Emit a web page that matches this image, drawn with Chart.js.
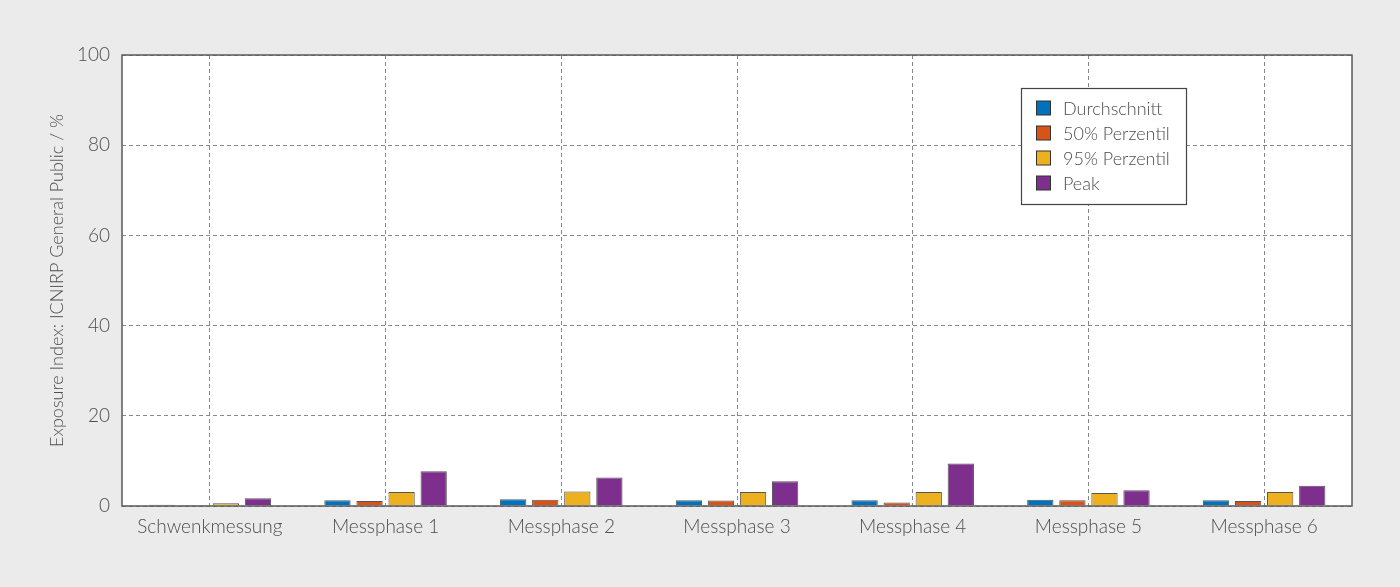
<!DOCTYPE html>
<html>
<head>
<meta charset="utf-8">
<script src="https://cdn.jsdelivr.net/npm/chart.js@4/dist/chart.umd.min.js"></script>
<style>
  html, body { margin: 0; padding: 0; background: #ebebeb; }
  #wrap { width: 1400px; height: 587px; position: relative; }
</style>
</head>
<body>
<div id="wrap"><canvas id="c" width="1400" height="587"></canvas></div>
<script>
const categories = ['Schwenkmessung', 'Messphase 1', 'Messphase 2', 'Messphase 3', 'Messphase 4', 'Messphase 5', 'Messphase 6'];
const seriesNames = ['Durchschnitt', '50% Perzentil', '95% Perzentil', 'Peak'];
const durchschnitt = [0.3, 1.3, 1.5, 1.3, 1.3, 1.4, 1.3];
const perzentil50 = [0.2, 1.1, 1.4, 1.2, 0.8, 1.3, 1.1];
const perzentil95 = [0.6, 3.1, 3.2, 3.1, 3.1, 2.9, 3.1];
const peak = [1.7, 7.7, 6.3, 5.5, 9.4, 3.5, 4.5];
const yTicks = [0, 20, 40, 60, 80, 100];
const colors = ['#0072BD', '#D95319', '#EDB120', '#7E2F8E'];

const FONT = 'Lato';
const TEXT = '#4d4d4d';

const plotFrame = {
  id: 'plotFrame',
  beforeDraw(chart) {
    const {ctx, chartArea: a} = chart;
    ctx.save();
    ctx.fillStyle = '#ffffff';
    ctx.fillRect(a.left, a.top, a.right - a.left, a.bottom - a.top);
    ctx.restore();
  },
  afterDraw(chart) {
    const {ctx, chartArea: a} = chart;
    ctx.save();
    ctx.strokeStyle = '#5a5a5a';
    ctx.lineWidth = 1.5;
    ctx.strokeRect(a.left, a.top, a.right - a.left, a.bottom - a.top);
    // legend box
    const bx = 1021.5, by = 88.5, bw = 165, bh = 116;
    ctx.fillStyle = '#ffffff';
    ctx.fillRect(bx, by, bw, bh);
    ctx.strokeStyle = '#444444';
    ctx.lineWidth = 1.2;
    ctx.strokeRect(bx, by, bw, bh);
    ctx.font = '300 18px ' + FONT;
    ctx.textBaseline = 'middle';
    chart.data.datasets.forEach((ds, i) => {
      const y = 108 + i * 25;
      ctx.fillStyle = ds.backgroundColor;
      ctx.fillRect(1036.5, y - 7, 14, 14);
      ctx.strokeStyle = '#333333';
      ctx.lineWidth = 1;
      ctx.strokeRect(1036.5, y - 7, 14, 14);
      ctx.fillStyle = TEXT;
      ctx.fillText(ds.label, 1063, y + 1);
    });
    ctx.restore();
  }
};

new Chart(document.getElementById('c'), {
  type: 'bar',
  data: {
    labels: categories,
    datasets: [durchschnitt, perzentil50, perzentil95, peak].map((d, i) => ({
      label: seriesNames[i],
      data: d,
      backgroundColor: colors[i],
      borderColor: '#555555',
      borderWidth: 1,
      categoryPercentage: 0.73,
      barPercentage: 0.82
    }))
  },
  options: {
    responsive: false,
    animation: false,
    layout: { padding: { left: 0, right: 48, top: 55, bottom: 0 } },
    plugins: { legend: { display: false }, tooltip: { enabled: false } },
    scales: {
      x: {
        grid: { offset: false, color: '#888888', lineWidth: 1, drawTicks: false },
        border: { display: false, dash: [4, 3] },
        ticks: { color: TEXT, font: { family: FONT, size: 19, weight: '300' }, padding: 9, maxRotation: 0 },
        afterFit(s) { s.height = 81; }
      },
      y: {
        min: 0, max: 100,
        afterBuildTicks(s) { s.ticks = yTicks.map(v => ({ value: v })); },
        grid: { color: '#888888', lineWidth: 1, drawTicks: false },
        border: { display: false, dash: [4, 3] },
        ticks: { color: TEXT, font: { family: FONT, size: 19, weight: '300' }, padding: 12 },
        title: { display: true, text: 'Exposure Index: ICNIRP General Public / %', color: TEXT,
                 font: { family: FONT, size: 18, weight: '300' }, padding: { top: 46, bottom: 0 } },
        afterFit(s) { s.width = 122; }
      }
    }
  },
  plugins: [plotFrame]
});
</script>
</body>
</html>
